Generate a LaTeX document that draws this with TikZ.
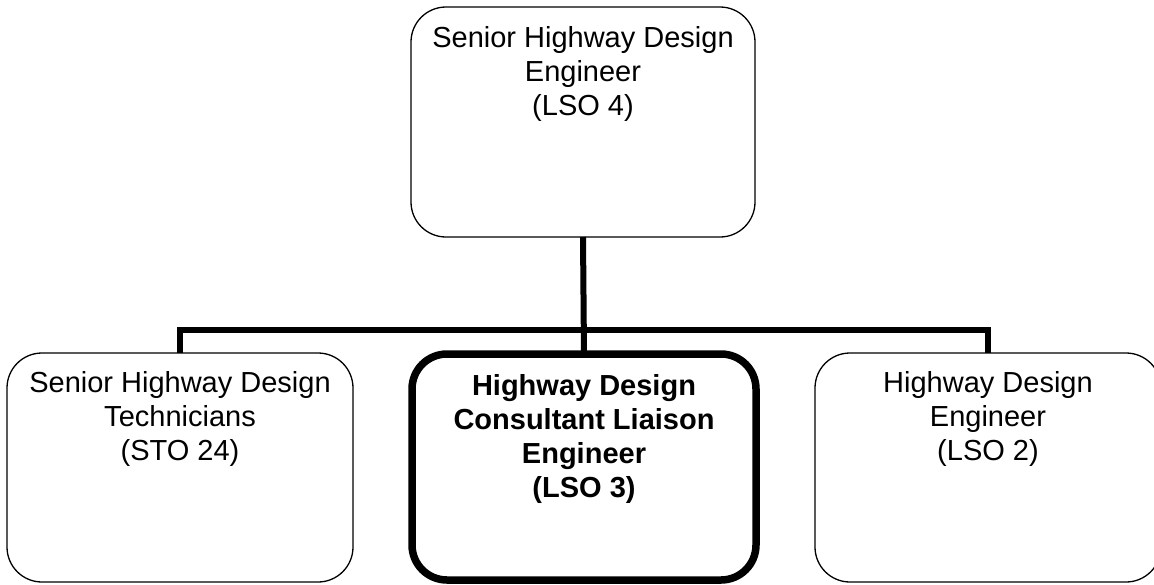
\documentclass[tikz,border=0pt]{standalone}
\usepackage{fontspec}
\setmainfont{Liberation Sans}
\begin{document}
\begin{tikzpicture}[x=1pt,y=-1pt,
  box/.style={draw=black, rounded corners=35pt, line width=1.3pt, outer sep=0pt, inner sep=0pt, fill=white},
  keybox/.style={box, line width=7.5pt},
  txt/.style={anchor=north, align=center, inner sep=0pt, font=\fontsize{29}{34}\selectfont},
  conn/.style={line width=6pt}
]
\useasboundingbox (0,0) rectangle (1154,584);
\clip (0,0) rectangle (1154,584);
\fill[white] (0,0) rectangle (1154,584);

\node[box, minimum width=344pt, minimum height=230pt] (T) at (583,122) {};
\node[box, minimum width=346pt, minimum height=229pt] (L) at (180,467.5) {};
\node[keybox, minimum width=344pt, minimum height=226pt] (M) at (584,467) {};
\node[box, minimum width=346pt, minimum height=229pt] (R) at (988,467.5) {};

\node[txt] (Tt) at (583,26) {Senior Highway Design\\Engineer\\(LSO 4)};
\node[txt] (Lt) at (180,371) {Senior Highway Design\\Technicians\\(STO 24)};
\node[txt, font=\fontsize{29}{34}\selectfont\bfseries] (Mt) at (584,374) {Highway Design\\Consultant Liaison\\Engineer\\(LSO 3)};
\node[txt] (Rt) at (988,371) {Highway Design\\Engineer\\(LSO 2)};

\coordinate (bus) at (583,330);
\draw[conn] (T.south) -- (M.north);
\draw[conn] (L.north) |- (bus) -| (R.north);
\end{tikzpicture}
\end{document}
